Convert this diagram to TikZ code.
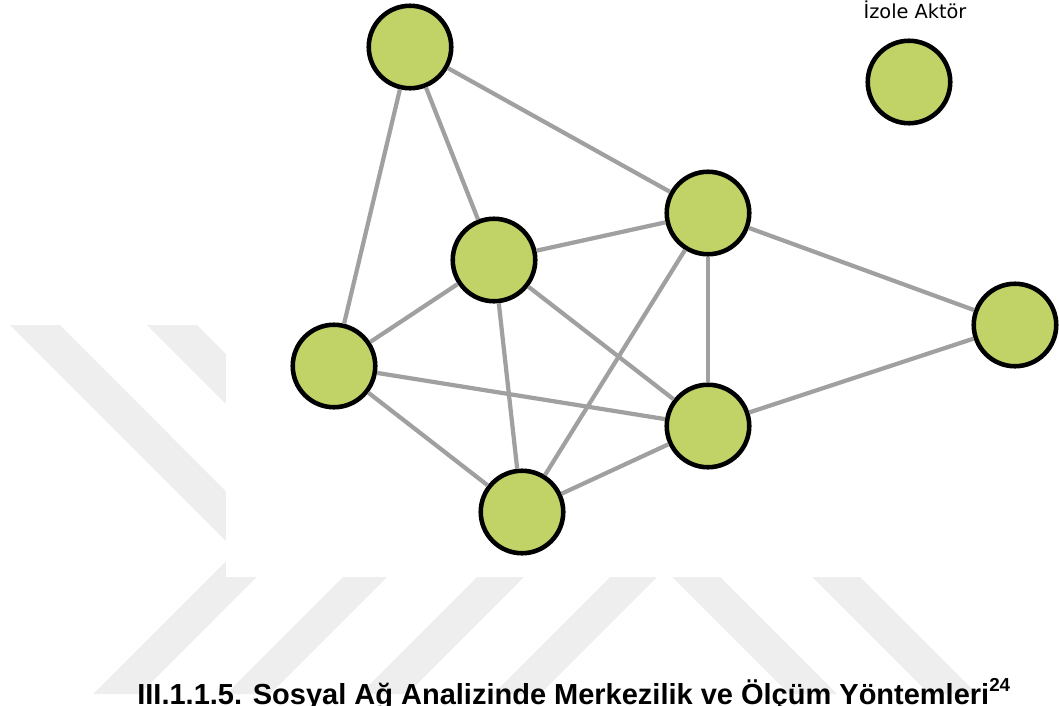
\documentclass[tikz,border=0pt]{standalone}
\usepackage{fontspec}
\setmainfont{Liberation Sans}
\newfontfamily\labelfont{DejaVu Sans}
\usepackage{tikz}
\definecolor{actorgreen}{RGB}{193, 211, 102}
\definecolor{tiegray}{RGB}{160, 160, 160}
\definecolor{wmgray}{RGB}{238, 238, 238}

\begin{document}
\begin{tikzpicture}[
    actor/.style={circle, draw=black, line width=2.6pt, fill=actorgreen,
                  minimum size=1.65cm, inner sep=0pt},
    tie/.style={draw=tiegray, line width=2.4pt},
    wmark/.style={fill=wmgray, draw=none}]

\useasboundingbox (0,0) rectangle (21.18,14.10);
\clip (0,0) rectangle (21.18,14.10);

%% ── watermark stripes behind the figure ──────────────────────────────────────
\fill[wmark] (0.20,7.60) -- (1.20,7.60) -- (5.68,3.11) -- (2.80,0.22)
  -- (1.86,0.22) -- (4.72,3.08) -- cycle;
\fill[wmark] (2.94,7.60) -- (3.94,7.60) -- (8.36,3.18) -- (5.40,0.22)
  -- (4.52,0.22) -- (7.42,3.12) -- cycle;
\fill[wmark] (9.54,2.56) -- (10.48,2.56) -- (8.14,0.22) -- (7.20,0.22) -- cycle;
\fill[wmark] (12.20,2.56) -- (13.14,2.56) -- (10.80,0.22) -- (9.86,0.22) -- cycle;
\fill[wmark] (13.44,2.56) -- (14.40,2.56) -- (16.74,0.22) -- (15.78,0.22) -- cycle;
\fill[wmark] (16.24,2.56) -- (17.20,2.56) -- (19.54,0.22) -- (18.58,0.22) -- cycle;

% white sheet of the network figure
\fill[white] (4.52,2.56) rectangle (21.18,14.10);

%% ── actors ───────────────────────────────────────────────────────────────────
\node[actor] (a1) at (8.20,13.16) {};
\node[actor] (a2) at (9.88,8.90) {};
\node[actor] (a3) at (14.16,9.84) {};
\node[actor] (a4) at (20.30,7.60) {};
\node[actor] (a5) at (6.68,6.78) {};
\node[actor] (a6) at (14.16,5.58) {};
\node[actor] (a7) at (10.44,3.86) {};

% isolated actor, no ties
\node[actor] (iso) at (18.18,12.46) {};
\node[font=\labelfont\fontsize{11}{13}\selectfont, anchor=base] (isolbl)
  at (18.30,13.73) {İzole Aktör};

%% ── ties ─────────────────────────────────────────────────────────────────────
\foreach \u/\v in {a1/a5, a1/a2, a1/a3, a2/a3, a2/a5, a2/a6, a2/a7,
                   a3/a6, a3/a7, a3/a4, a4/a6, a5/a6, a5/a7, a7/a6}
  \draw[tie] (\u) -- (\v);

%% ── caption ──────────────────────────────────────────────────────────────────
\node[anchor=base west, inner sep=0pt,
      font=\bfseries\fontsize{16.5}{19}\selectfont] (caption) at (2.74,0.02)
  {III.1.1.5. Sosyal Ağ Analizinde Merkezilik ve Ölçüm
   Yöntemleri\raisebox{0.42em}{\fontsize{10.7}{12}\selectfont 24}};

\end{tikzpicture}
\end{document}
